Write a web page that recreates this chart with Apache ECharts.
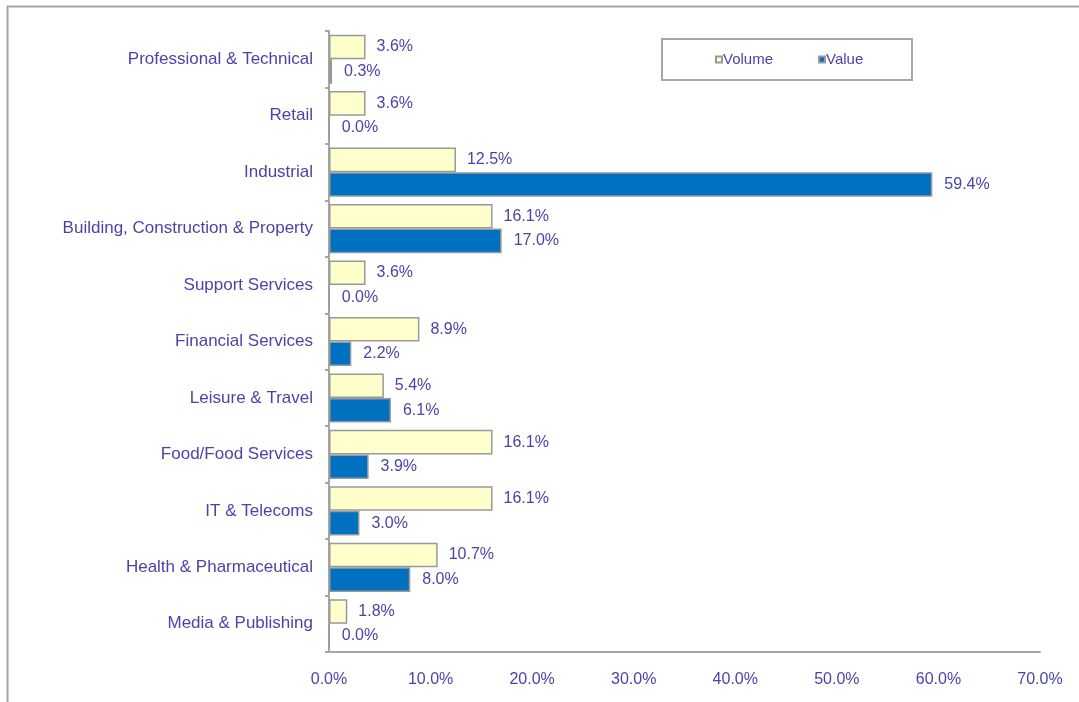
<!DOCTYPE html>
<html lang="en">
<head>
  <meta charset="utf-8">
  <title>Volume and Value by Sector</title>
  <script src="https://cdn.jsdelivr.net/npm/echarts@6/dist/echarts.min.js"></script>
  <style>
    html, body { margin: 0; padding: 0; background: #fff; }
    #chart { width: 1079px; height: 702px; }
  </style>
</head>
<body>
<div id="chart"></div>

<script>
// sectors, top to bottom
var sectors = [
  'Professional & Technical',
  'Retail',
  'Industrial',
  'Building, Construction & Property',
  'Support Services',
  'Financial Services',
  'Leisure & Travel',
  'Food/Food Services',
  'IT & Telecoms',
  'Health & Pharmaceutical',
  'Media & Publishing'
];
var volume = [3.6, 3.6, 12.5, 16.1, 3.6, 8.9, 5.4, 16.1, 16.1, 10.7, 1.8];
var value  = [0.3, 0.0, 59.4, 17.0, 0.0, 2.2, 6.1, 3.9, 3.0, 8.0, 0.0];

var txt = '#4a44a8';
var pct = function (v) { return Number(v).toFixed(1) + '%'; };

var chart = echarts.init(document.getElementById('chart'));

var option = {
  backgroundColor: '#fff',
  animation: false,
  textStyle: { fontFamily: 'Liberation Sans, Arial, sans-serif' },
  graphic: [
    // outer frame
    { type: 'rect', left: 5, top: 4, shape: { width: 1100, height: 720 },
      style: { fill: 'none', stroke: '#a6a6a6', lineWidth: 2 }, silent: true },
    // legend box
    { type: 'rect', left: 661, top: 38, shape: { width: 250, height: 41 },
      style: { fill: '#fff', stroke: '#a6a6a6', lineWidth: 2 }, silent: true, z: 1 }
  ],
  legend: {
    left: 710, top: 47, z: 5,
    itemWidth: 6, itemHeight: 6, itemGap: 45,
    icon: 'rect',
    textStyle: { color: txt, fontSize: 15, padding: [0, 0, 0, -4] },
    data: ['Volume', 'Value']
  },
  grid: { left: 329, right: 39, top: 31, bottom: 50 },
  xAxis: {
    type: 'value', min: 0, max: 70, interval: 10,
    axisLine: { show: true, lineStyle: { color: '#a6a6a6', width: 2 } },
    axisTick: { show: false },
    splitLine: { show: false },
    axisLabel: { color: txt, fontSize: 16, margin: 20, formatter: pct }
  },
  yAxis: {
    type: 'category', inverse: true, data: sectors,
    axisLine: { lineStyle: { color: '#a6a6a6', width: 2 } },
    axisTick: { show: true, length: 4, lineStyle: { color: '#a6a6a6', width: 2 } },
    axisLabel: { color: txt, fontSize: 17, margin: 16 }
  },
  series: [
    {
      name: 'Volume', type: 'bar', data: volume,
      barGap: '0%', barCategoryGap: '13%',
      itemStyle: { color: '#ffffcc', borderColor: '#999999', borderWidth: 1.5 },
      label: { show: true, position: 'right', distance: 11, color: txt, fontSize: 16,
               formatter: function (p) { return pct(p.value); } }
    },
    {
      name: 'Value', type: 'bar', data: value,
      barGap: '0%', barCategoryGap: '13%',
      itemStyle: { color: '#0070c0', borderColor: '#999999', borderWidth: 1.5 },
      label: { show: true, position: 'right', distance: 12, color: txt, fontSize: 16,
               formatter: function (p) { return pct(p.value); } }
    }
  ]
};

chart.setOption(option);
</script>
</body>
</html>
